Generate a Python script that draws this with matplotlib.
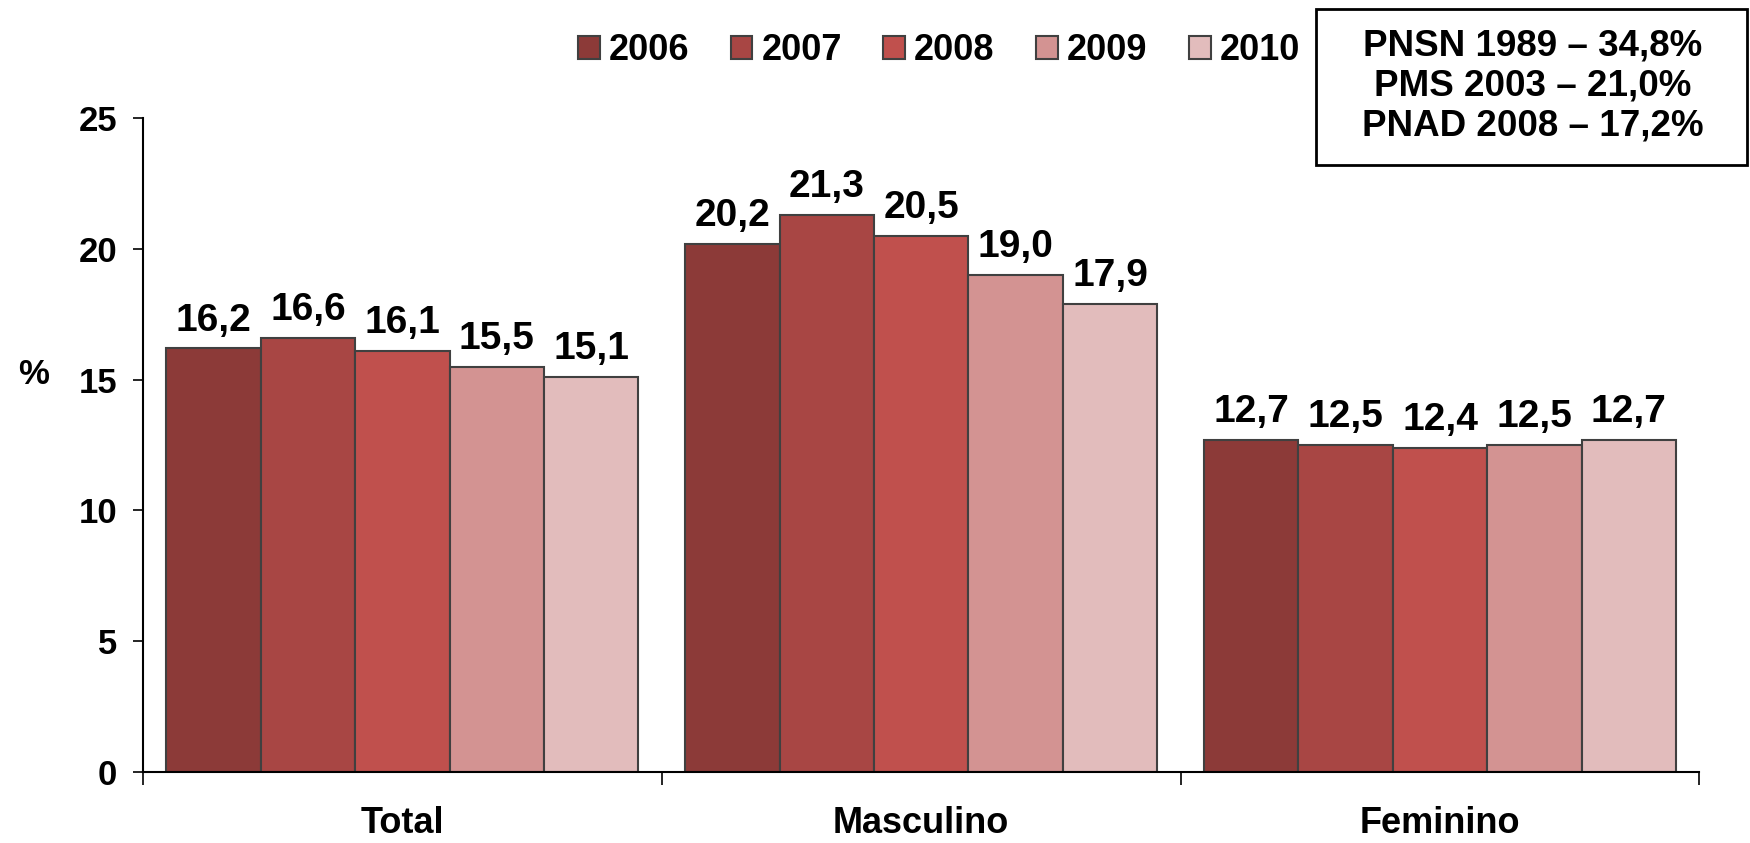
import matplotlib
matplotlib.use("Agg")
import matplotlib.pyplot as plt
import numpy as np
from matplotlib import font_manager

categories = ["Total", "Masculino", "Feminino"]
years = ["2006", "2007", "2008", "2009", "2010"]
v2006 = [16.2, 20.2, 12.7]
v2007 = [16.6, 21.3, 12.5]
v2008 = [16.1, 20.5, 12.4]
v2009 = [15.5, 19.0, 12.5]
v2010 = [15.1, 17.9, 12.7]
series = [v2006, v2007, v2008, v2009, v2010]
colors = ["#8C3A38", "#A84644", "#C0504D", "#D39392", "#E2BCBC"]
box_lines = ["PNSN 1989 \u2013 34,8%", "PMS 2003 \u2013 21,0%", "PNAD 2008 \u2013 17,2%"]

names = {f.name for f in font_manager.fontManager.ttflist}
main_font = "Liberation Sans" if "Liberation Sans" in names else "DejaVu Sans"

fig = plt.figure(figsize=(17.5, 8.43), dpi=100)
ax = fig.add_axes([0.0817, 0.0842, 0.8894, 0.7758])

x = np.arange(len(categories))
w = 0.182
for i, (vals, c, yr) in enumerate(zip(series, colors, years)):
    pos = x + (i - 2) * w
    ax.bar(pos, vals, width=w, color=c, edgecolor="#404040", linewidth=1.5, label=yr, zorder=2)
    for p, v in zip(pos, vals):
        ax.annotate(f"{v:.1f}".replace(".", ","), (p, v), xytext=(0, 7), textcoords="offset points",
                    ha="center", va="bottom", fontsize=28, fontweight="bold", family=main_font)

ax.set_xlim(-0.5, 2.5)
ax.set_ylim(0, 25)
ax.set_yticks([0, 5, 10, 15, 20, 25])
ax.set_yticklabels([str(t) for t in [0, 5, 10, 15, 20, 25]], fontsize=25, fontweight="bold", family=main_font)
ax.set_xticks([-0.5, 0.5, 1.5, 2.5])
ax.set_xticklabels([])
ax.tick_params(axis="x", length=9, width=1.2, direction="out")
ax.tick_params(axis="y", length=7.5, width=1.2, direction="out", pad=11)
trans = matplotlib.transforms.blended_transform_factory(ax.transData, fig.transFigure)
for i, cat in enumerate(categories):
    ax.text(i, 2 / 843, cat, ha="center", va="bottom", fontsize=26, fontweight="bold",
            family=main_font, transform=trans, clip_on=False)
ax.spines["top"].set_visible(False)
ax.spines["right"].set_visible(False)
ax.spines["left"].set_linewidth(1.5)
ax.spines["bottom"].set_linewidth(1.5)

fig.text(18 / 1750, 1 - 374 / 843, "%", ha="left", va="center", fontsize=25,
         fontweight="bold", family=main_font)

fig.legend(loc="center", bbox_to_anchor=(939 / 1750, 1 - 51 / 843), ncol=5, frameon=False,
           prop={"family": main_font, "weight": "bold", "size": 26},
           handlelength=0.6, handleheight=0.6, handletextpad=0.25, columnspacing=1.15)

fig.text(1533 / 1750, 1 - 86 / 843, "\n".join(box_lines), ha="center", va="center",
         fontsize=26.5, fontweight="bold", family=main_font, linespacing=1.17)
fig.patches.append(matplotlib.patches.Rectangle((1316 / 1750, 1 - 165 / 843), 431 / 1750, 156 / 843,
                   transform=fig.transFigure, fill=False, edgecolor="black", linewidth=2))

fig.savefig("out.png", dpi=100)
